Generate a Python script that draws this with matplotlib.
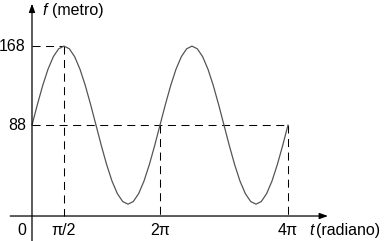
import numpy as np
import matplotlib
matplotlib.use("Agg")
import matplotlib.pyplot as plt

plt.rcParams["font.family"] = ["Liberation Sans", "DejaVu Sans"]

# f(t) every pi/12, from t = 0 to 4*pi
t_steps = list(range(0, 49))  # in units of pi/12
f_vals = [88, 108.7, 128, 144.6, 157.3, 165.3, 168, 165.3, 157.3, 144.6, 128, 108.7,
          88, 67.3, 48, 31.4, 18.7, 10.7, 8, 10.7, 18.7, 31.4, 48, 67.3,
          88, 108.7, 128, 144.6, 157.3, 165.3, 168, 165.3, 157.3, 144.6, 128, 108.7,
          88, 67.3, 48, 31.4, 18.7, 10.7, 8, 10.7, 18.7, 31.4, 48, 67.3, 88]
y_marks = [168, 88]
x_marks = [np.pi / 2, 2 * np.pi, 4 * np.pi]
x_labels = ["π/2", "2π", "4π"]

t = np.array(t_steps) * np.pi / 12

fig = plt.figure(figsize=(3.85, 2.41), dpi=100)
ax = fig.add_axes([0, 0, 1, 1])
ax.set_xlim(-0.5 * np.pi, 5.516 * np.pi)
ax.set_ylim(-29.3, 214.7)
ax.axis("off")

dash = (0, (7.7, 5.3))
dk = dict(color="black", lw=0.75, linestyle=dash)
# dashed guides
ax.plot([0, np.pi / 2], [168, 168], **dk)
ax.plot([np.pi / 2, np.pi / 2], [168, -4], **dk)
ax.plot([0, 4 * np.pi], [88, 88], **dk)
ax.plot([2 * np.pi, 2 * np.pi], [88, -4], **dk)
ax.plot([4 * np.pi, 4 * np.pi], [88, -4], **dk)

# curve
ax.plot(t, f_vals, color="#555555", lw=0.9)

# axes with arrows
ax.annotate("", xy=(0, 211), xytext=(0, -29.3),
            arrowprops=dict(arrowstyle="-|>,head_length=0.5,head_width=0.18",
                            color="black", lw=0.9, shrinkA=0, shrinkB=0))
ax.annotate("", xy=(4.625 * np.pi, -4), xytext=(-0.34 * np.pi, -4),
            arrowprops=dict(arrowstyle="-|>,head_length=0.5,head_width=0.18",
                            color="black", lw=0.9, shrinkA=0, shrinkB=0))

fs = 11.5
ylab = -18.2
for v in y_marks:
    ax.text(-0.095 * np.pi, v, str(v), ha="right", va="center", fontsize=fs)
ax.text(-0.164 * np.pi, ylab, "0", ha="center", va="center", fontsize=fs)
for xm, lab in zip(x_marks, x_labels):
    ax.text(xm, ylab, lab, ha="center", va="center", fontsize=fs)

ax.text(4.33 * np.pi, ylab, "t", ha="left", va="center", fontsize=fs, style="italic")
ax.text(4.44 * np.pi, ylab, "(radiano)", ha="left", va="center", fontsize=fs)
ax.text(0.17 * np.pi, 203.6, "f", ha="left", va="center", fontsize=fs, style="italic")
ax.text(0.31 * np.pi, 203.6, "(metro)", ha="left", va="center", fontsize=fs)

fig.savefig("out.png", dpi=100)
